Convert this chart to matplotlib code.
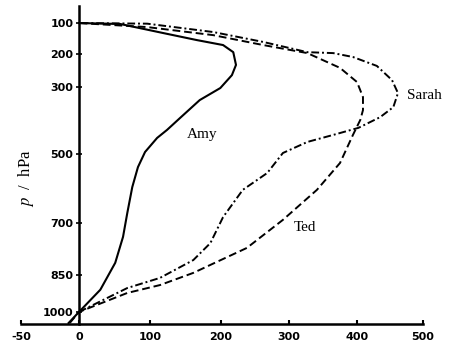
import numpy as np
import matplotlib
matplotlib.use("Agg")
import matplotlib.pyplot as plt

plt.rcParams['mathtext.fontset'] = 'stix'

# pressure levels (hPa) and wind-ish values
amy_x = [-9, 0, 30, 51, 62, 68, 75, 83, 93, 110, 124, 142, 170, 199, 216, 222, 218, 203, 166, 118, 58, 0]
amy_p = [1045, 1000, 910, 815, 740, 671, 596, 538, 494, 452, 428, 393, 339, 303, 264, 233, 194, 171, 155, 132, 103, 100]

ted_x = [-8, 0, 68, 114, 161, 185, 238, 291, 341, 375, 394, 405, 409, 409, 400, 375, 327, 262, 189, 96, 0]
ted_p = [1045, 1000, 923, 891, 844, 821, 772, 691, 604, 526, 443, 398, 369, 330, 285, 242, 197, 171, 139, 113, 100]

sarah_x = [0, 68, 114, 161, 185, 203, 232, 268, 291, 327, 365, 402, 435, 455, 462, 453, 430, 394, 365, 327, 262, 189, 96, 0]
sarah_p = [1000, 903, 862, 807, 758, 683, 604, 555, 497, 464, 443, 422, 390, 360, 318, 279, 236, 209, 197, 194, 161, 129, 102, 100]

x_ticks = [-50, 0, 100, 200, 300, 400, 500]
p_ticks = [100, 200, 300, 500, 700, 850, 1000]

# the hand-drawn axes are not evenly spaced: map tick values to their drawn spacing
x_knots = [-1000, -50, 0, 100, 200, 300, 400, 500, 2000]
x_draw = [-1081, 21, 79, 150, 221, 289, 357, 423, 1413]
p_knots = [-1000, 100, 200, 300, 500, 700, 850, 1000, 3000]
p_draw = [-318, 23, 54, 87, 154, 223, 275, 312, 805]


def x_fwd(v):
    return np.interp(v, x_knots, x_draw)


def x_inv(v):
    return np.interp(v, x_draw, x_knots)


def p_fwd(v):
    return np.interp(v, p_knots, p_draw)


def p_inv(v):
    return np.interp(v, p_draw, p_knots)


fig = plt.figure(figsize=(4.66, 3.49), dpi=100)
ax = fig.add_axes([0.0451, 0.0716, 0.8627, 0.9112])
ax.set_xscale('function', functions=(x_fwd, x_inv))
ax.set_yscale('function', functions=(p_fwd, p_inv))

ax.plot(amy_x, amy_p, color='black', lw=1.5, solid_joinstyle='round')
ax.plot(ted_x, ted_p, color='black', lw=1.4, linestyle=(0, (4, 2)))
ax.plot(sarah_x, sarah_p, color='black', lw=1.4, linestyle=(0, (4, 1.5, 1, 1.5)))

ax.set_xlim(-50, 500)
ax.set_ylim(1049, 45)

ax.spines['top'].set_visible(False)
ax.spines['right'].set_visible(False)
ax.spines['left'].set_position(('data', 0))
ax.spines['left'].set_linewidth(1.8)
ax.spines['bottom'].set_linewidth(1.8)

ax.set_xticks(x_ticks)
ax.set_xticklabels([str(v) for v in x_ticks])
ax.set_yticks(p_ticks)
ax.set_yticklabels([str(v) for v in p_ticks])
ax.minorticks_off()
ax.tick_params(axis='x', direction='in', length=3, width=1.5, pad=6, labelsize=8)
ax.tick_params(axis='y', direction='inout', length=4, width=1.2, pad=2, labelsize=8)
for lab in ax.get_xticklabels() + ax.get_yticklabels():
    lab.set_fontweight('bold')

serif = ['Liberation Serif', 'DejaVu Serif']
ax.text(173, 443, 'Amy', family=serif, fontsize=11, ha='center', va='center')
ax.text(476, 324, 'Sarah', family=serif, fontsize=11, ha='left', va='center')
ax.text(323, 714, 'Ted', family=serif, fontsize=11, ha='center', va='center')

fig.text(26 / 466, 1 - 178 / 349, '$p$  /  hPa', family=serif, fontsize=12,
         rotation=90, ha='center', va='center')

fig.savefig('out.png', dpi=100)
